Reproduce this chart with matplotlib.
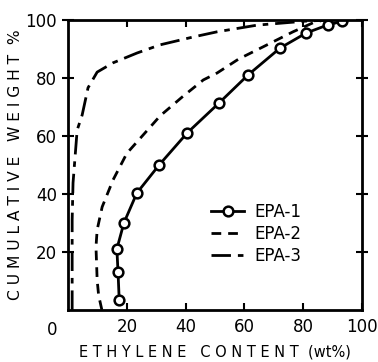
import numpy as np
import matplotlib.pyplot as plt

# EPA-1 measured fractions
epa1_x = [17.4, 17.0, 16.6, 19.0, 23.4, 31.0, 40.5, 51.4, 61.2, 72.1, 81.0, 88.4, 93.2]
epa1_y = [3.4, 13.0, 21.0, 30.0, 40.3, 50.0, 61.0, 71.4, 81.0, 90.3, 95.5, 98.3, 99.5]

# EPA-2 distribution curve
epa2_x = [11.5, 10.4, 9.9, 9.5, 9.9, 11.6, 15.3, 20.0, 27.9, 31.3, 38.8, 46.0,
          50.7, 58.0, 66.3, 76.5, 83.3, 87.0]
epa2_y = [0.0, 5.0, 10.3, 21.7, 27.6, 35.5, 44.8, 54.0, 63.0, 66.9, 73.4, 79.3,
          81.7, 86.5, 90.7, 95.9, 99.0, 100.0]

# EPA-3 distribution curve
epa3_x = [1.4, 1.4, 1.7, 3.1, 4.8, 6.8, 9.9, 15.3, 23.5, 31.3, 42.5, 50.7,
          64.3, 81.0, 90.0]
epa3_y = [0.0, 31.0, 43.8, 62.0, 67.2, 76.6, 82.0, 85.2, 88.6, 91.4, 94.1, 95.9,
          98.2, 99.6, 100.0]

xticks = [20, 40, 60, 80, 100]
yticks = [20, 40, 60, 80, 100]

plt.rcParams['font.family'] = 'DejaVu Sans'

fig = plt.figure(figsize=(3.78, 3.62), dpi=100)
ax = fig.add_axes([0.180, 0.144, 0.778, 0.801])

lw = 2.0
ax.plot(epa1_x, epa1_y, 'k-', lw=lw, marker='o', ms=7, mfc='white',
        mec='black', mew=1.8, label='EPA-1')
ax.plot(epa2_x, epa2_y, 'k-', lw=lw, dashes=(3.5, 2.5), label='EPA-2')
ax.plot(epa3_x, epa3_y, 'k-', lw=lw, dashes=(7, 2.5, 2, 2.5), label='EPA-3')

ax.set_xlim(0, 100)
ax.set_ylim(0, 100)
ax.set_xticks(xticks)
ax.set_yticks(yticks)
ax.tick_params(axis='both', direction='in', length=5, width=1.5,
               labelsize=12, top=True, right=True, pad=6)
ax.tick_params(axis='y', direction='inout', length=8, pad=4)
for s in ax.spines.values():
    s.set_linewidth(2)

# shared origin label
ax.text(-0.055, -0.04, '0', transform=ax.transAxes, fontsize=12,
        ha='center', va='top')

ax.set_xlabel('E T H Y L E N E   C O N T E N T  (wt%)', fontsize=10.5, labelpad=6)
ax.set_ylabel('C U M U L A T I V E   W E I G H T  %', fontsize=11.2, labelpad=2)

ax.legend(loc='center', bbox_to_anchor=(0.64, 0.262), frameon=False,
          fontsize=12, handlelength=2.0, handletextpad=0.6, labelspacing=0.25)

plt.savefig('out.png', dpi=100)
